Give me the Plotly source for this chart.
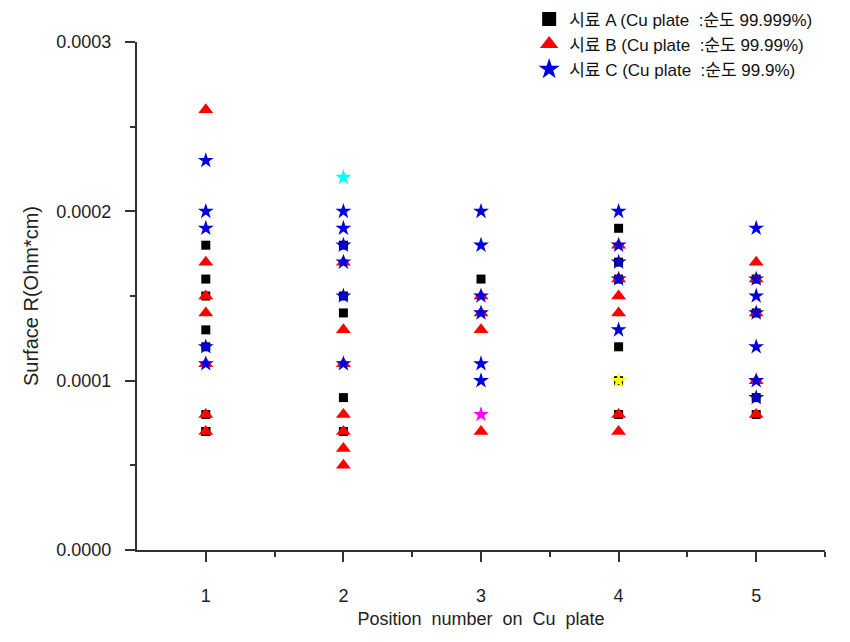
import plotly.graph_objects as go

# Sample A (squares)
a_x = [1, 1, 1, 1, 1, 1, 1, 1,
       2, 2, 2, 2, 2,
       3,
       4, 4, 4, 4, 4, 4,
       5, 5, 5, 5]
a_y = [0.00018, 0.00016, 0.00015, 0.00013, 0.00012, 0.00008, 0.00007, 0.00007,
       0.00018, 0.00015, 0.00014, 0.00009, 0.00007,
       0.00016,
       0.00019, 0.00017, 0.00016, 0.00012, 0.00010, 0.00008,
       0.00016, 0.00014, 0.00009, 0.00008]

# Sample B (triangles)
b_x = [1, 1, 1, 1, 1, 1, 1,
       2, 2, 2, 2, 2, 2, 2,
       3, 3, 3, 3,
       4, 4, 4, 4, 4, 4,
       5, 5, 5, 5, 5]
b_y = [0.00026, 0.00017, 0.00015, 0.00014, 0.00011, 0.00008, 0.00007,
       0.00017, 0.00013, 0.00011, 0.00008, 0.00007, 0.00006, 0.00005,
       0.00015, 0.00014, 0.00013, 0.00007,
       0.00018, 0.00016, 0.00015, 0.00014, 0.00008, 0.00007,
       0.00017, 0.00016, 0.00014, 0.00010, 0.00008]

# Sample C (stars)
c_x = [1, 1, 1, 1, 1,
       2, 2, 2, 2, 2, 2,
       3, 3, 3, 3, 3, 3,
       4, 4, 4, 4, 4,
       5, 5, 5, 5, 5, 5, 5]
c_y = [0.00023, 0.00020, 0.00019, 0.00012, 0.00011,
       0.00020, 0.00019, 0.00018, 0.00017, 0.00015, 0.00011,
       0.00020, 0.00018, 0.00015, 0.00014, 0.00011, 0.00010,
       0.00020, 0.00018, 0.00017, 0.00016, 0.00013,
       0.00019, 0.00016, 0.00015, 0.00014, 0.00012, 0.00010, 0.00009]

# Odd-coloured star points
extra_x = [2, 3, 4]
extra_y = [0.00022, 0.00008, 0.00010]
extra_colors = ["#00FFFF", "#FF00FF", "#FFFF00"]

names = ["시료 A (Cu plate  :순도 99.999%)",
         "시료 B (Cu plate  :순도 99.99%)",
         "시료 C (Cu plate  :순도 99.9%)"]

x_ticks = [1, 2, 3, 4, 5]
y_ticks = [0.0, 0.0001, 0.0002, 0.0003]
y_ticklabels = ["0.0000", "0.0001", "0.0002", "0.0003"]

font = "Liberation Sans, Noto Sans CJK KR, sans-serif"
axis_col = "#333333"


def nb(s):
    return s.replace("  ", "\u00a0\u00a0")


fig = go.Figure()
series = [
    (a_x, a_y, "square", 9, "black", 14),
    (b_x, b_y, "triangle-up", 13, "#FF0000", 16),
    (c_x, c_y, "star", 12, "#0000DD", 16),
]
for (xs, ys, sym, sz, col, lsz), nm in zip(series, names):
    fig.add_trace(go.Scatter(x=xs, y=ys, mode="markers", showlegend=False,
                             marker=dict(symbol=sym, size=sz, color=col)))
for (xs, ys, sym, sz, col, lsz), nm in zip(series, names):
    fig.add_trace(go.Scatter(x=[None], y=[None], mode="markers", name=nb(nm),
                             marker=dict(symbol=sym, size=lsz, color=col)))
fig.add_trace(go.Scatter(x=extra_x, y=extra_y, mode="markers", showlegend=False,
                         marker=dict(symbol="star", size=12, color=extra_colors)))

fig.update_layout(
    width=850, height=642,
    margin=dict(l=137, r=25, t=42, b=92, autoexpand=False),
    paper_bgcolor="white", plot_bgcolor="white",
    font=dict(family=font, size=18, color="#222222"),
    showlegend=True,
    legend=dict(x=0.57, y=1.08, xanchor="left", yanchor="top",
                font=dict(size=17, color="#111111"), bgcolor="rgba(0,0,0,0)",
                itemsizing="trace", tracegroupgap=0, itemwidth=30),
    xaxis=dict(range=[0.5, 5.5], tickvals=x_ticks, ticks="outside", ticklen=10,
               tickwidth=2, tickcolor=axis_col, showline=True, linewidth=2,
               linecolor=axis_col, showgrid=False, zeroline=False,
               ticklabelstandoff=18,
               minor=dict(ticks="outside", ticklen=5, tickwidth=2, tickcolor=axis_col,
                          tickvals=[1.5, 2.5, 3.5, 4.5, 5.5]),
               title=dict(text="Position\u00a0 number\u00a0 on\u00a0 Cu\u00a0 plate", standoff=8,
                          font=dict(size=18))),
    yaxis=dict(range=[0, 0.0003], tickvals=y_ticks, ticktext=y_ticklabels,
               ticks="outside", ticklen=10, tickwidth=2, tickcolor=axis_col,
               showline=True, linewidth=2, linecolor=axis_col, showgrid=False,
               zeroline=False, ticklabelstandoff=10,
               minor=dict(ticks="outside", ticklen=5, tickwidth=2, tickcolor=axis_col,
                          tickvals=[0.00005, 0.00015, 0.00025]),
               title=dict(text="Surface R(Ohm*cm)", standoff=12, font=dict(size=20))),
)

fig.write_html("out.html")
